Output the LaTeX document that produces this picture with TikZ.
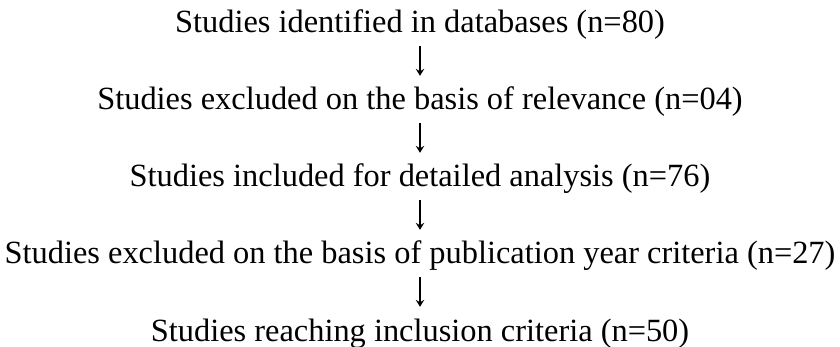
\documentclass[tikz,border=0pt]{standalone}
\usepackage{fontspec}
\setmainfont{Liberation Serif}
\usetikzlibrary{arrows.meta}
\tikzset{
  line/.style={anchor=base, inner sep=0pt, text height=22pt, text depth=7pt,
    font=\fontsize{32.4}{36}\selectfont},
  arr/.style={line width=1.1pt, -{Stealth[length=7pt,width=8.5pt,inset=2.5pt]},
    shorten <=6pt, shorten >=12pt}
}
\begin{document}
\begin{tikzpicture}[x=1pt,y=-1pt]
\useasboundingbox (0,0) rectangle (840,347);
\node[line] (a) at (420,33) {Studies identified in databases (n=80)};
\node[line] (b) at (420,110) {Studies excluded on the basis of relevance (n=04)};
\node[line] (c) at (420,187) {Studies included for detailed analysis (n=76)};
\node[line] (d) at (420,264) {Studies excluded on the basis of publication year criteria (n=27)};
\node[line] (e) at (420,341) {Studies reaching inclusion criteria (n=50)};
\draw[arr] (a) -- (b);
\draw[arr] (b) -- (c);
\draw[arr] (c) -- (d);
\draw[arr] (d) -- (e);
\end{tikzpicture}
\end{document}
